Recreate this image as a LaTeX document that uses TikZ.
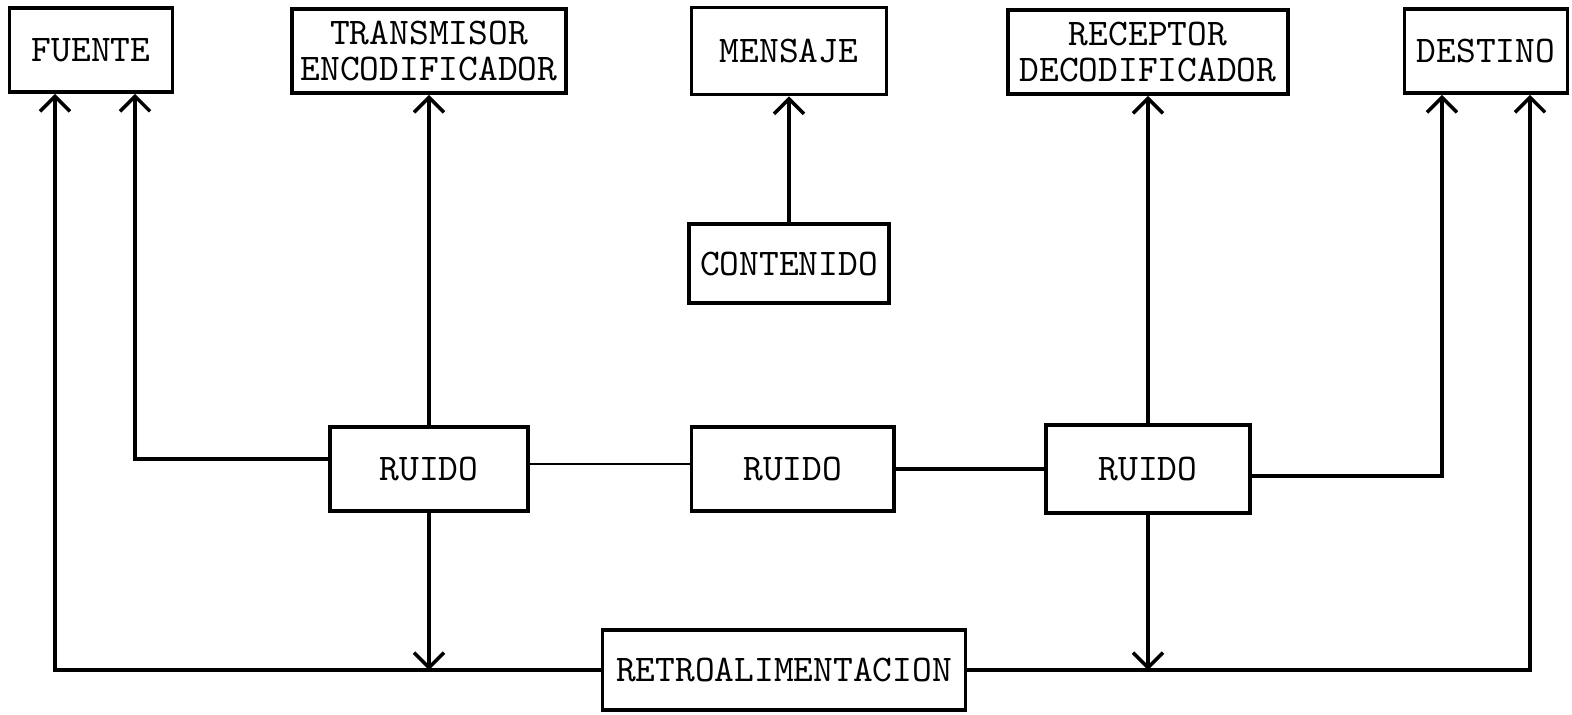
\documentclass[tikz,border=0pt]{standalone}
\usetikzlibrary{arrows.meta,positioning,calc}
\begin{document}
\begin{tikzpicture}[
    x=0.01cm, y=0.01cm,
    box/.style={rectangle, draw=black, line width=1pt, inner sep=0pt, align=center,
                minimum height=0.84cm, font=\ttfamily\fontsize{10.7}{10.5}\selectfont},
    arr/.style={-{Straight Barb[length=1.5mm,width=3mm,line width=1pt]}, line width=0.9pt},
    wire/.style={line width=0.9pt}
]
\useasboundingbox (0,0) rectangle (1572,-714);

\node[box, minimum width=1.63cm] (fuente) at (91,-50) {FUENTE};
\node[box, minimum width=2.74cm] (trans) at (429,-51) {TRANSMISOR\\ENCODIFICADOR};
\node[box, minimum width=1.95cm, minimum height=0.87cm] (mensaje) at (789,-51) {MENSAJE};
\node[box, minimum width=2.80cm] (recep) at (1148,-52) {RECEPTOR\\DECODIFICADOR};
\node[box, minimum width=1.63cm] (destino) at (1486,-51) {DESTINO};

\node[box, minimum width=2.00cm, minimum height=0.79cm, below=1.26cm of mensaje] (contenido) {CONTENIDO};

\node[box, minimum width=1.98cm] (ruido1) at (429,-469) {RUIDO};
\node[box, minimum width=2.02cm, right=1.60cm of ruido1] (ruido2) {RUIDO};
\node[box, minimum width=2.04cm, minimum height=0.88cm] (ruido3) at (1148,-469) {RUIDO};

\node[box, minimum width=3.63cm, minimum height=0.80cm] (retro) at (784,-670) {RETROALIMENTACION};

\draw[arr] (retro.west) -| ([xshift=-3.6mm]fuente.south);
\draw[arr] ([yshift=1mm]ruido1.west) -| ([xshift=4.4mm]fuente.south);
\draw[arr] (ruido1.north) -- (trans.south);
\draw[arr] (ruido1.south) -- (ruido1.south |- retro.west);
\draw[thin] ([yshift=0.5mm]ruido1.east) -- ([yshift=0.5mm]ruido2.west);
\draw[wire] (ruido2.east) -- (ruido3.west);
\draw[arr] (contenido.north) -- (mensaje.south);
\draw[arr] (ruido3.north) -- (recep.south);
\draw[arr] (ruido3.south) -- (ruido3.south |- retro.east);
\draw[arr] ([yshift=-0.7mm]ruido3.east) -| ([xshift=-4.4mm]destino.south);
\draw[arr] (retro.east) -| ([xshift=4.4mm]destino.south);

\end{tikzpicture}
\end{document}
